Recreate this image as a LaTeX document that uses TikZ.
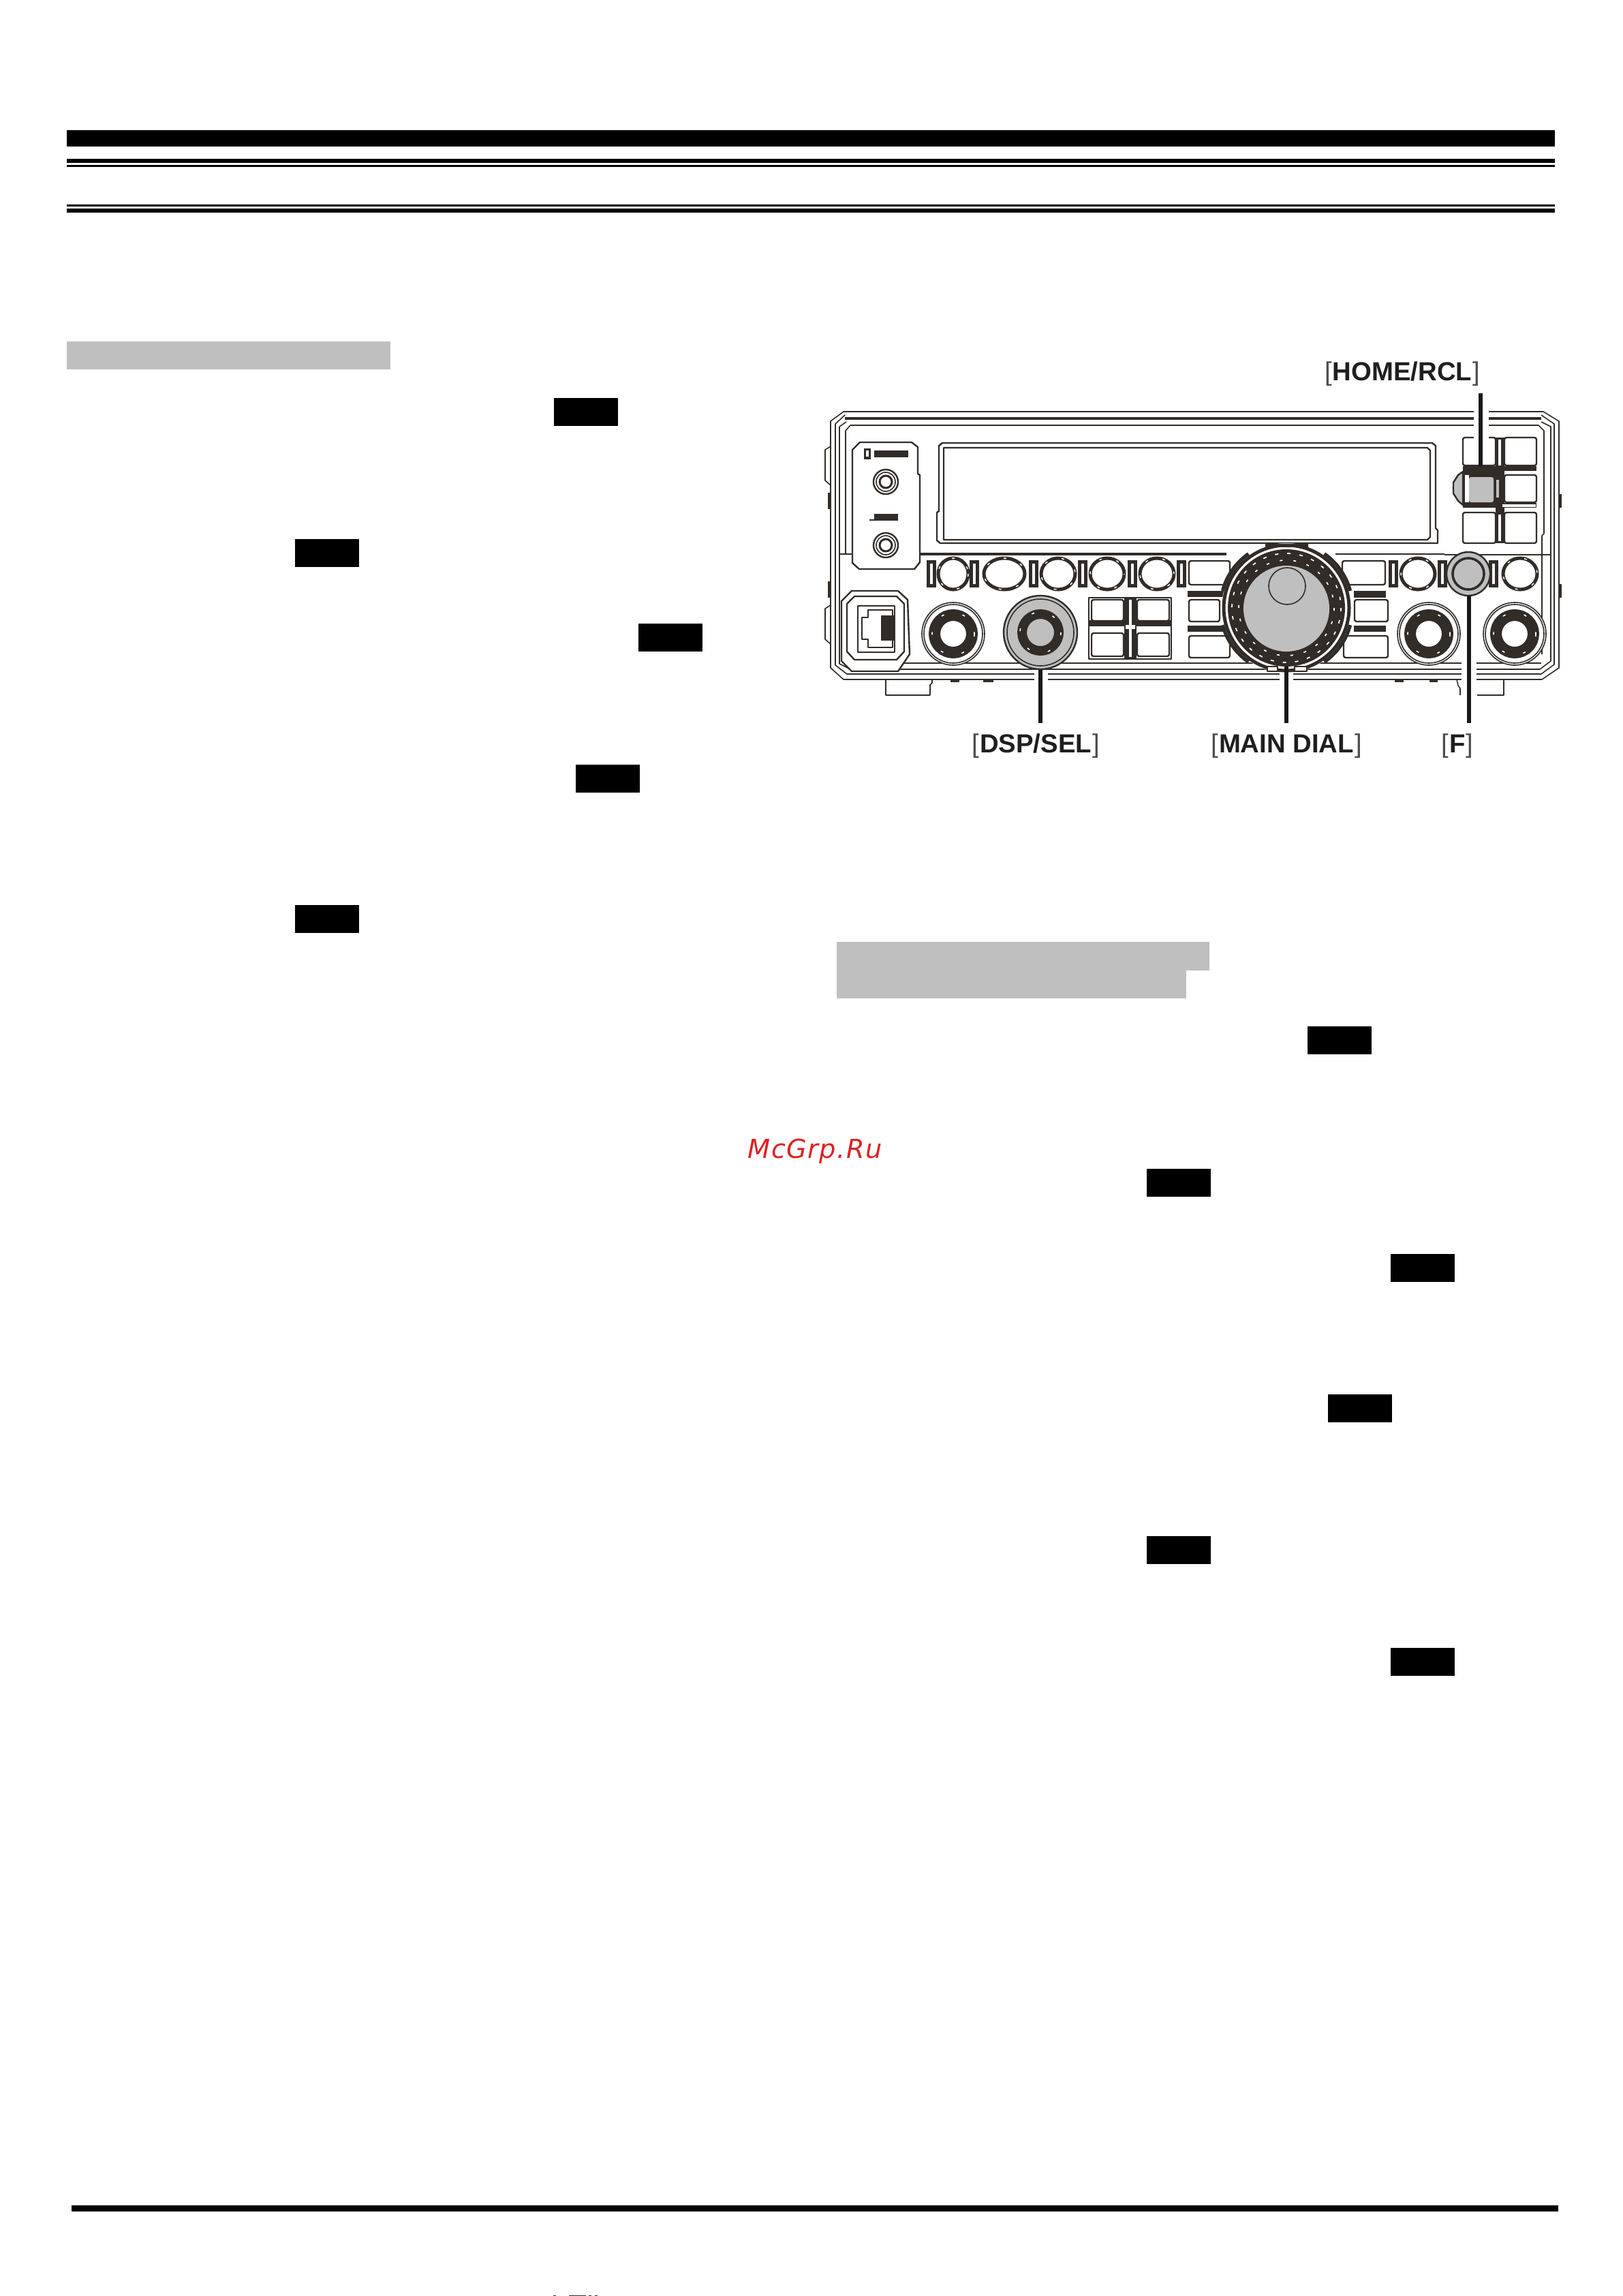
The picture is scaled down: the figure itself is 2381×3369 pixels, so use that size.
\documentclass[tikz,border=0pt]{standalone}
\usepackage{fontspec}
\setmainfont{Liberation Sans}
\newfontfamily\wmfont[LetterSpace=3.6]{DejaVu Sans}
\def\px{0.2845pt}
\definecolor{dk}{RGB}{50,44,40}
\definecolor{hl}{RGB}{191,191,191}
\definecolor{wm}{RGB}{220,35,35}
\tikzset{
  x=0.01cm,y=-0.01cm,
  solidblack/.style={fill=black,draw=none},
  shade box/.style={fill=hl,draw=none},
  pl/.style={draw=dk,line width=1.6*\px,line join=round},
  plm/.style={draw=dk,line width=2.4*\px,line join=round},
  pk/.style={draw=dk,line width=4*\px},
  dkfill/.style={fill=dk,draw=none},
  leader/.style={draw=black!90,line width=5.5*\px},
  callout/.style={font=\fontsize{10.9pt}{12pt}\selectfont\bfseries,text=black!88,inner sep=0pt,anchor=center},
  tick/.style={draw=white,line width=1.6*\px},
}
\newcommand{\lbr}{{\mdseries\textcolor{black!70}{[}\hspace{0.03em}}}
\newcommand{\rbr}{{\mdseries\hspace{0.03em}\textcolor{black!70}{]}}}
\newcommand{\smallbtn}[3]{% x, rx, y=842
  \draw[draw=dk,line width=5*\px,fill=white] (#1,842) ellipse [x radius=#2,y radius=23];
  \draw[draw=white,line width=1.5*\px,dash pattern=on 4*\px off 22*\px,dash phase=#3*\px] (#1,842) ellipse [x radius=#2,y radius=23];
}
\newcommand{\slitbar}[1]{% x left
  \fill[dk] (#1,822) rectangle ++(14,40);
  \fill[white] (#1+5,827) rectangle ++(4,30);
}
\newcommand{\bigknob}[2]{%
  \draw[pl,fill=white] (#1,#2) circle [radius=46];
  \draw[pl] (#1,#2) circle [radius=43];
  \draw[draw=dk,line width=17*\px,fill=white] (#1,#2) circle [radius=27.5];
  \draw[draw=white,line width=1.6*\px,dash pattern=on 4*\px off 28*\px] (#1,#2) circle [radius=31];
}
\newcommand{\rbtn}[4]{%
  \draw[plm,fill=white,rounded corners=3*\px] (#1,#2) rectangle (#3,#4);
}
\begin{document}
\begin{tikzpicture}
\useasboundingbox (0,0) rectangle (2381,3369);
\fill[white] (0,0) rectangle (2381,3369);
% page rules
\fill[solidblack] (98,191) rectangle (2282,215);
\fill[solidblack] (98,233) rectangle (2282,239);
\fill[solidblack] (98,242) rectangle (2282,245);
\fill[solidblack] (98,300) rectangle (2282,303);
\fill[solidblack] (98,306) rectangle (2282,312);
\fill[solidblack] (105,3236) rectangle (2287,3245);
% grey headings
\fill[shade box] (98,501) rectangle (573,542);
\fill[shade box] (1228,1382) rectangle (1775,1424);
\fill[shade box] (1228,1423) rectangle (1741,1465);
% black tags
\foreach \bx/\by in {813/584,433/791,937/915,845/1122,433/1328,
  1919/1506,1683/1715,2041/1840,1949/2046,1683/2254,2041/2418}
  \fill[solidblack] (\bx,\by) rectangle ++(94,41);
% === radio: frame ===
\draw[pl] (1238,604) -- (2265,604) -- (2288,618) -- (2288,980) -- (2263,997) -- (1238,997) -- (1219,980) -- (1219,618) -- cycle;
\draw[pk] (1240,614) -- (2262,614);
\draw[pl] (1226,622) -- (1240,609) -- (1226,622) -- (1226,976) -- (1243,989) -- (2262,989) -- (2281,975) -- (2281,622) -- (2262,609);
\draw[pl] (1232,626) -- (1242,619);
\draw[pl] (1232,626) -- (1232,974) -- (1248,982) -- (2260,982) -- (2276,970) -- (2276,626) -- (2262,619);
\draw[pl] (1248,624) -- (2258,624) -- (2266,632) -- (2266,783) -- (2263,786) -- (2263,960);
\draw[pl] (1248,624) -- (1241,632) -- (1241,813);
\draw[pl] (1320,973) -- (2262,973);
% bottom foot, tabs
\draw[pl] (1300,997) -- (1300,1020) -- (1365,1020) -- (1365,1005) -- (1368,1002) -- (1368,997);
\draw[pl] (2138,997) -- (2140,1006) -- (2143,1010) -- (2143,1020);
\draw[pl] (2168,1020) -- (2207,1020) -- (2207,997);
\foreach \a/\b in {1395/1408,1443/1458,2047/2060,2098/2110} \fill[dk] (\a,997) rectangle (\b,1001);
\draw[pl] (1219,655) -- (1211,660) -- (1211,705) -- (1219,712);
\draw[pl] (1219,888) -- (1211,893) -- (1211,938) -- (1219,945);
\foreach \a/\b in {723/747,853/877} \fill[dk] (1215,\a) rectangle (1219,\b);
\foreach \a/\b in {725/745,857/877} \fill[dk] (2288,\a) rectangle (2292,\b);
% dividing line
\draw[pk] (1350,813) -- (1800,813);
\draw[plm] (1960,813) -- (2120,813);
\draw[pl] (2120,814) -- (2276,814);
\draw[pl] (1232,813) -- (1252,813);
% gaps in the frame where the leaders cross
\fill[white] (2163,600) rectangle (2185,628);
\fill[white] (1518,986) rectangle (1538,1000);
\fill[white] (1878,986) rectangle (1898,1000);
\fill[white] (2145,968) rectangle (2167,1000);
% side panel
\draw[plm,fill=white] (1262,649) -- (1338,649) -- (1347,656) -- (1347,695) -- (1350,697) -- (1350,825) -- (1342,835) -- (1261,835) -- (1251,826) -- (1251,660) -- cycle;
\fill[dk] (1268,658) rectangle (1278,674);
\fill[white] (1271,661) rectangle (1275,670);
\fill[dk] (1283,661) rectangle (1333,671);
\fill[dk] (1283,754) rectangle (1318,762);
\fill[dk] (1276,762) rectangle (1318,764);
\foreach \jy in {707,800}{
  \draw[plm,fill=white] (1300,\jy) circle [radius=18];
  \draw[pl] (1300,\jy) circle [radius=14];
  \draw[draw=dk,line width=3*\px] (1300,\jy) circle [radius=9];
}
% display
\draw[plm] (1383,650) -- (2102,650) -- (2107,654) -- (2107,775) -- (2110,778) -- (2110,797) -- (1380,797) -- (1375,793) -- (1375,752) -- (1378,750) -- (1378,654) -- cycle;
\draw[plm] (1385,657) -- (2095,657) -- (2099,661) -- (2099,788) -- (2095,792) -- (1385,792) -- cycle;
% grid of buttons, right
\fill[dk] (2195,642) rectangle (2208,797);
\fill[white] (2199,645) rectangle (2203,683);
\fill[white] (2199,755) rectangle (2203,794);
\fill[dk] (2147,684) rectangle (2255,691);
\fill[dk] (2147,738) rectangle (2255,745);
\fill[white] (2205,740) rectangle (2254,744);
\foreach \ax/\bx in {2147/2195,2208/2255}{
  \rbtn{\ax}{642}{\bx}{683}
  \rbtn{\ax}{697}{\bx}{737}
  \rbtn{\ax}{752}{\bx}{797}
}
\fill[white] (2163,640) rectangle (2185,645);
% HOME/RCL highlighted key
\draw[plm,fill=hl] (2147,692) -- (2140,697) -- (2133,708) -- (2133,724) -- (2140,735) -- (2147,741) -- cycle;
\fill[dk] (2147,687) rectangle (2205,745);
\fill[white] (2150,697) rectangle (2156,737);
\fill[hl,rounded corners=3*\px] (2156,700) rectangle (2192,737);
\fill[hl] (2196,704) rectangle (2200,730);
% small buttons row
\foreach \bx in {1360,1423,1510,1582,1655,1727,2038,2110,2185} {\slitbar{\bx}}
\smallbtn{1399}{22}{0}
\smallbtn{1474}{30}{6}
\smallbtn{1553}{25}{12}
\smallbtn{1625}{25}{3}
\smallbtn{1698}{25}{9}
\smallbtn{2081}{25}{5}
\smallbtn{2231}{25}{11}
% F knob
\draw[draw=dk,line width=2.4*\px,fill=hl] (2155,842) circle [radius=32];
\draw[draw=dk,line width=3.6*\px,fill=hl] (2155,842) circle [radius=23];
% four keys in the centre
\draw[plm,fill=white] (1598,877) rectangle (1719,967);
\fill[dk] (1598,910) rectangle (1719,919);
\fill[white] (1600,922) rectangle (1650,925);
\fill[dk] (1650,877) rectangle (1668,967);
\fill[white] (1657,880) rectangle (1661,964);
\fill[white] (1652,917) rectangle (1666,923);
\rbtn{1602}{880}{1649}{911}
\rbtn{1669}{880}{1716}{911}
\rbtn{1602}{929}{1649}{963}
\rbtn{1669}{929}{1716}{963}
% rectangular keys beside the dial
\rbtn{1745}{823}{1805}{858}
\fill[dk] (1743,867) rectangle (1797,876);
\rbtn{1745}{880}{1790}{912}
\fill[dk] (1743,918) rectangle (1795,927);
\rbtn{1745}{933}{1805}{965}
\rbtn{1970}{823}{2033}{858}
\fill[dk] (1987,867) rectangle (2034,877);
\rbtn{1988}{880}{2037}{912}
\fill[dk] (1987,918) rectangle (2034,927);
\rbtn{1972}{933}{2037}{965}
% main dial
\fill[white] (1888,892) circle [radius=95];
\foreach \sa/\ea in {125/165,195/235,-55/-15,15/55}
  \draw[draw=dk,line width=5*\px] (1888,892) ++(\sa:97) arc [start angle=\sa,end angle=\ea,radius=97];
\fill[dk] (1857,798) rectangle (1920,803);
\draw[draw=dk,line width=5*\px] (1888,892) circle [radius=92];
\draw[draw=white,line width=1.4*\px] (1888,892) circle [radius=88];
\fill[dk] (1888,892) circle [radius=86];
\draw[draw=white,line width=1.7*\px,dash pattern=on 5*\px off 13*\px] (1888,892) circle [radius=80];
\draw[draw=white,line width=1.7*\px,dash pattern=on 4*\px off 16*\px] (1888,892) circle [radius=70];
\fill[hl] (1888,893) circle [radius=63];
\draw[pl,fill=hl] (1889,860) circle [radius=27];
\draw[pl,fill=white] (1860,978) rectangle (1875,985);
\draw[pl,fill=white] (1900,978) rectangle (1918,985);
% rotary knobs
\bigknob{1399}{930}
\bigknob{2097}{930}
\bigknob{2223}{930}
\draw[draw=dk,line width=2.4*\px,fill=hl] (1527,928) circle [radius=54];
\draw[pl] (1527,928) circle [radius=49];
\draw[draw=dk,line width=14*\px,fill=hl] (1527,928) circle [radius=27];
\draw[draw=white,line width=1.6*\px,dash pattern=on 4*\px off 28*\px] (1527,928) circle [radius=30];
% LAN connector
\draw[plm,fill=white] (1250,867) -- (1318,867) -- (1332,880) -- (1335,960) -- (1318,985) -- (1250,985) -- (1235,970) -- (1235,882) -- cycle;
\draw[plm] (1254,875) -- (1316,875) -- (1327,886) -- (1327,956) -- (1316,968) -- (1254,968) -- (1243,956) -- (1243,886) -- cycle;
\draw[plm] (1259,889) rectangle (1313,957);
\draw[pl] (1274,895) -- (1310,895) -- (1310,950) -- (1274,950) -- (1274,938) -- (1265,938) -- (1265,906) -- (1274,906) -- cycle;
\fill[dk] (1293,903) rectangle (1312,940);
% leaders
\coordinate (hometop) at (2173,577);
\coordinate (homeend) at (2173,684);
\coordinate (dspend) at (1527,983);
\coordinate (dspfoot) at (1527,1061);
\coordinate (mainend) at (1888,978);
\coordinate (mainfoot) at (1888,1061);
\coordinate (fend) at (2156,874);
\coordinate (ffoot) at (2156,1061);
\draw[leader] (hometop) -- (homeend);
\draw[leader] (dspend) -- (dspfoot);
\draw[leader] (mainend) -- (mainfoot);
\draw[leader] (fend) -- (ffoot);
% labels
\node[callout] (lblhome) at (2058,549) {\lbr HOME/RCL\rbr};
\node[callout] (lbldsp) at (1520,1095) {\lbr DSP/SEL\rbr};
\node[callout] (lblmain) at (1888,1095) {\lbr MAIN DIAL\rbr};
\node[callout] (lblf) at (2139,1095) {\lbr F\rbr};
% watermark
\node[anchor=base west,inner sep=0pt,text=wm,font=\wmfont\itshape\fontsize{10.9pt}{12pt}\selectfont] (wmark) at (1097,1699) {McGrp.Ru};
% clipped specks at the page foot
\fill[dk] (812,3368) rectangle (816,3369);
\fill[dk,draw=none] (835,3368) rectangle (860,3369);
\fill[dk,draw=none] (864,3368) rectangle (868,3369);
\fill[dk,draw=none] (873,3368) rectangle (877,3369);
\end{tikzpicture}
\end{document}
